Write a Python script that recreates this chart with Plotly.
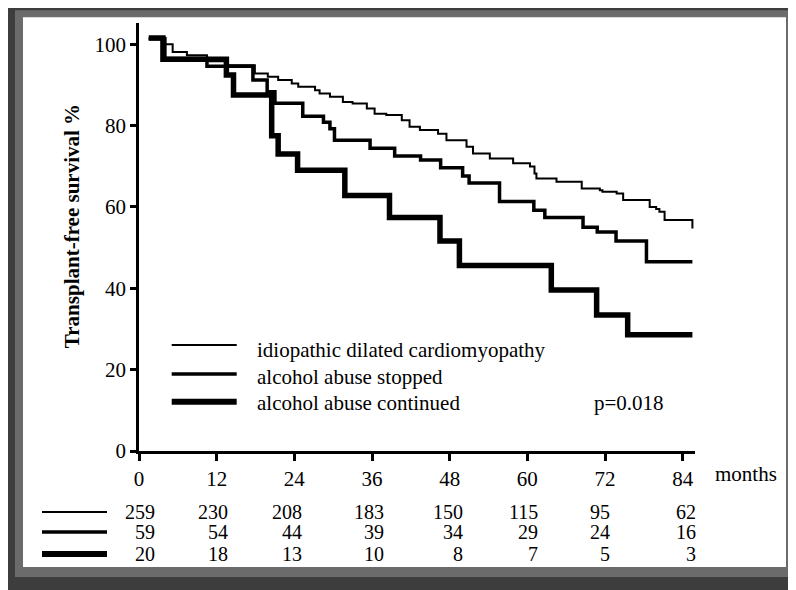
import plotly.graph_objects as go

# ---------------- data ----------------
month_ticks = [0, 12, 24, 36, 48, 60, 72, 84]
surv_ticks = [0, 20, 40, 60, 80, 100]

series_names = ["idiopathic dilated cardiomyopathy",
                "alcohol abuse stopped",
                "alcohol abuse continued"]

idc_months = [1.5, 3.7, 5.2, 7.4, 10.5, 13.5, 17.9, 19.9, 21.5, 23.6, 24.6, 27.2, 27.9,
              29.5, 31.5, 33.0, 35.2, 36.4, 38.2, 40.6, 41.8, 43.4, 46.2, 47.5, 50.6,
              51.6, 54.2, 57.8, 60.4, 61.1, 61.4, 64.5, 68.4, 71.2, 71.6, 73.8, 74.8,
              78.9, 79.9, 80.4, 81.2, 85.5, 85.5]
idc_surv = [101.3, 100.0, 98.1, 97.3, 95.8, 94.8, 92.8, 92.0, 91.2, 90.3, 89.5, 88.7, 87.9,
            87.1, 85.8, 85.4, 84.2, 82.9, 82.6, 81.3, 79.7, 78.9, 78.0, 76.4, 74.8,
            73.1, 71.9, 70.7, 69.9, 68.2, 67.0, 66.2, 64.5, 64.1, 63.7, 63.3, 61.7,
            60.0, 59.5, 58.8, 56.8, 56.8, 54.7]

stop_months = [1.5, 4.0, 10.5, 17.6, 19.8, 21.0, 25.3, 28.5, 29.5, 30.2, 35.7, 39.5,
               43.5, 46.6, 50.0, 51.0, 55.7, 61.0, 62.7, 68.6, 70.8, 73.7, 78.4, 85.5]
stop_surv = [101.3, 96.5, 94.6, 91.2, 88.3, 85.5, 82.3, 80.8, 79.2, 76.4, 74.4, 72.5,
             71.5, 69.6, 67.6, 65.9, 61.3, 59.2, 57.4, 55.0, 53.8, 51.6, 46.5, 46.5]

cont_months = [1.5, 3.7, 13.5, 14.6, 20.5, 21.5, 24.5, 31.8, 38.7, 46.5, 49.5, 63.7,
               70.7, 75.5, 85.5]
cont_surv = [101.5, 96.3, 92.4, 87.5, 77.5, 73.0, 69.0, 62.8, 57.4, 51.6, 45.6, 39.6,
             33.4, 28.6, 28.6]

risk_idc = [259, 230, 208, 183, 150, 115, 95, 62]
risk_stop = [59, 54, 44, 39, 34, 29, 24, 16]
risk_cont = [20, 18, 13, 10, 8, 7, 5, 3]

p_text = "p=0.018"
x_label = "months"
y_label = "Transplant-free survival %"

# ---------------- layout helpers (page-pixel geometry) ----------------
OFF = 8  # the page body margin offsets the figure by 8 px
W, H = 796 - OFF, 590 - OFF
PL, PR, PT, PB = 139, 695, 22.7, 451  # plot area in page pixels
X_MAX = 85.9
Y_MAX = 105.2


def px(xp):
    return (xp - PL) / (PR - PL)


def py(yp):
    return (PB - yp) / (PB - PT)


FONT = "Liberation Serif"
widths = [2, 3.5, 5.5]
legend_widths = [2, 3.5, 6]

fig = go.Figure()
curves = [(idc_months, idc_surv), (stop_months, stop_surv), (cont_months, cont_surv)]
for (t, s), name, w in zip(curves, series_names, widths):
    fig.add_trace(go.Scatter(x=t, y=s, mode="lines", name=name,
                             line=dict(shape="hv", color="black", width=w),
                             showlegend=False, hoverinfo="skip"))

shapes = []
# picture frame
shapes.append(dict(type="rect", xref="paper", yref="paper", x0=px(8), x1=px(800),
                   y0=py(594), y1=py(7), fillcolor="#3d3d3d", line_width=0, layer="below"))
shapes.append(dict(type="rect", xref="paper", yref="paper", x0=px(15), x1=px(792),
                   y0=py(577), y1=py(10), fillcolor="#6b6b6b", line_width=0, layer="below"))
shapes.append(dict(type="rect", xref="paper", yref="paper", x0=px(23), x1=px(786),
                   y0=py(567), y1=py(17), fillcolor="white", line_width=0, layer="below"))

annotations = []
# manual legend
leg_y_line = [345, 374, 401.7]
leg_y_text = [350, 376.5, 403]
for name, w, yl, yt in zip(series_names, legend_widths, leg_y_line, leg_y_text):
    shapes.append(dict(type="line", xref="paper", yref="paper", x0=px(171.7), x1=px(236.7),
                       y0=py(yl), y1=py(yl), line=dict(color="black", width=w)))
    annotations.append(dict(xref="paper", yref="paper", x=px(255), y=py(yt), text=name,
                            showarrow=False, xanchor="left", yanchor="middle",
                            font=dict(family=FONT, size=21, color="black")))

annotations.append(dict(xref="paper", yref="paper", x=px(591.5), y=py(403), text=p_text,
                        showarrow=False, xanchor="left", yanchor="middle",
                        font=dict(family=FONT, size=21, color="black")))

annotations.append(dict(xref="paper", yref="paper", x=px(713), y=py(474.5), text=x_label,
                        showarrow=False, xanchor="left", yanchor="middle",
                        font=dict(family=FONT, size=21, color="black")))

annotations.append(dict(xref="paper", yref="paper", x=px(72), y=py(226), text="<b>" + y_label + "</b>",
                        showarrow=False, textangle=-90, xanchor="center", yanchor="middle",
                        font=dict(family=FONT, size=21, color="black")))

# number-at-risk table
risk_rows = [risk_idc, risk_stop, risk_cont]
row_y = [512.5, 532.5, 554.5]
col_shift = [18, 13, 10, 14, 15, 13, 7, 15]
for row, yr, w in zip(risk_rows, row_y, legend_widths):
    shapes.append(dict(type="line", xref="paper", yref="paper", x0=px(42), x1=px(107),
                       y0=py(yr - 0.5), y1=py(yr - 0.5), line=dict(color="black", width=w)))
    for m, v, sh in zip(month_ticks, row, col_shift):
        annotations.append(dict(xref="x", yref="paper", x=m, y=py(yr), text=str(v),
                                showarrow=False, xanchor="right", yanchor="middle",
                                xshift=sh,
                                font=dict(family=FONT, size=20, color="black")))

fig.update_layout(
    width=W, height=H,
    margin=dict(l=PL - OFF, r=W - (PR - OFF), t=PT - OFF, b=H - (PB - OFF), pad=0),
    paper_bgcolor="white", plot_bgcolor="rgba(0,0,0,0)",
    shapes=shapes, annotations=annotations,
    showlegend=False,
    font=dict(family=FONT, size=21, color="black"),
)
fig.update_xaxes(range=[0, X_MAX], tickvals=month_ticks, ticktext=[str(v) for v in month_ticks],
                 showline=True, linecolor="black", linewidth=2.5, ticks="outside",
                 ticklen=7, tickwidth=2.5, tickcolor="black", showgrid=False, zeroline=False,
                 tickfont=dict(family=FONT, size=21, color="black"), fixedrange=True)
fig.update_yaxes(range=[0, Y_MAX], tickvals=surv_ticks, ticktext=[str(v) for v in surv_ticks],
                 showline=True, linecolor="black", linewidth=2.5, ticks="outside",
                 ticklen=6, tickwidth=2.5, tickcolor="black", showgrid=False, zeroline=False,
                 tickfont=dict(family=FONT, size=21, color="black"), fixedrange=True)

fig.write_html("out.html")
